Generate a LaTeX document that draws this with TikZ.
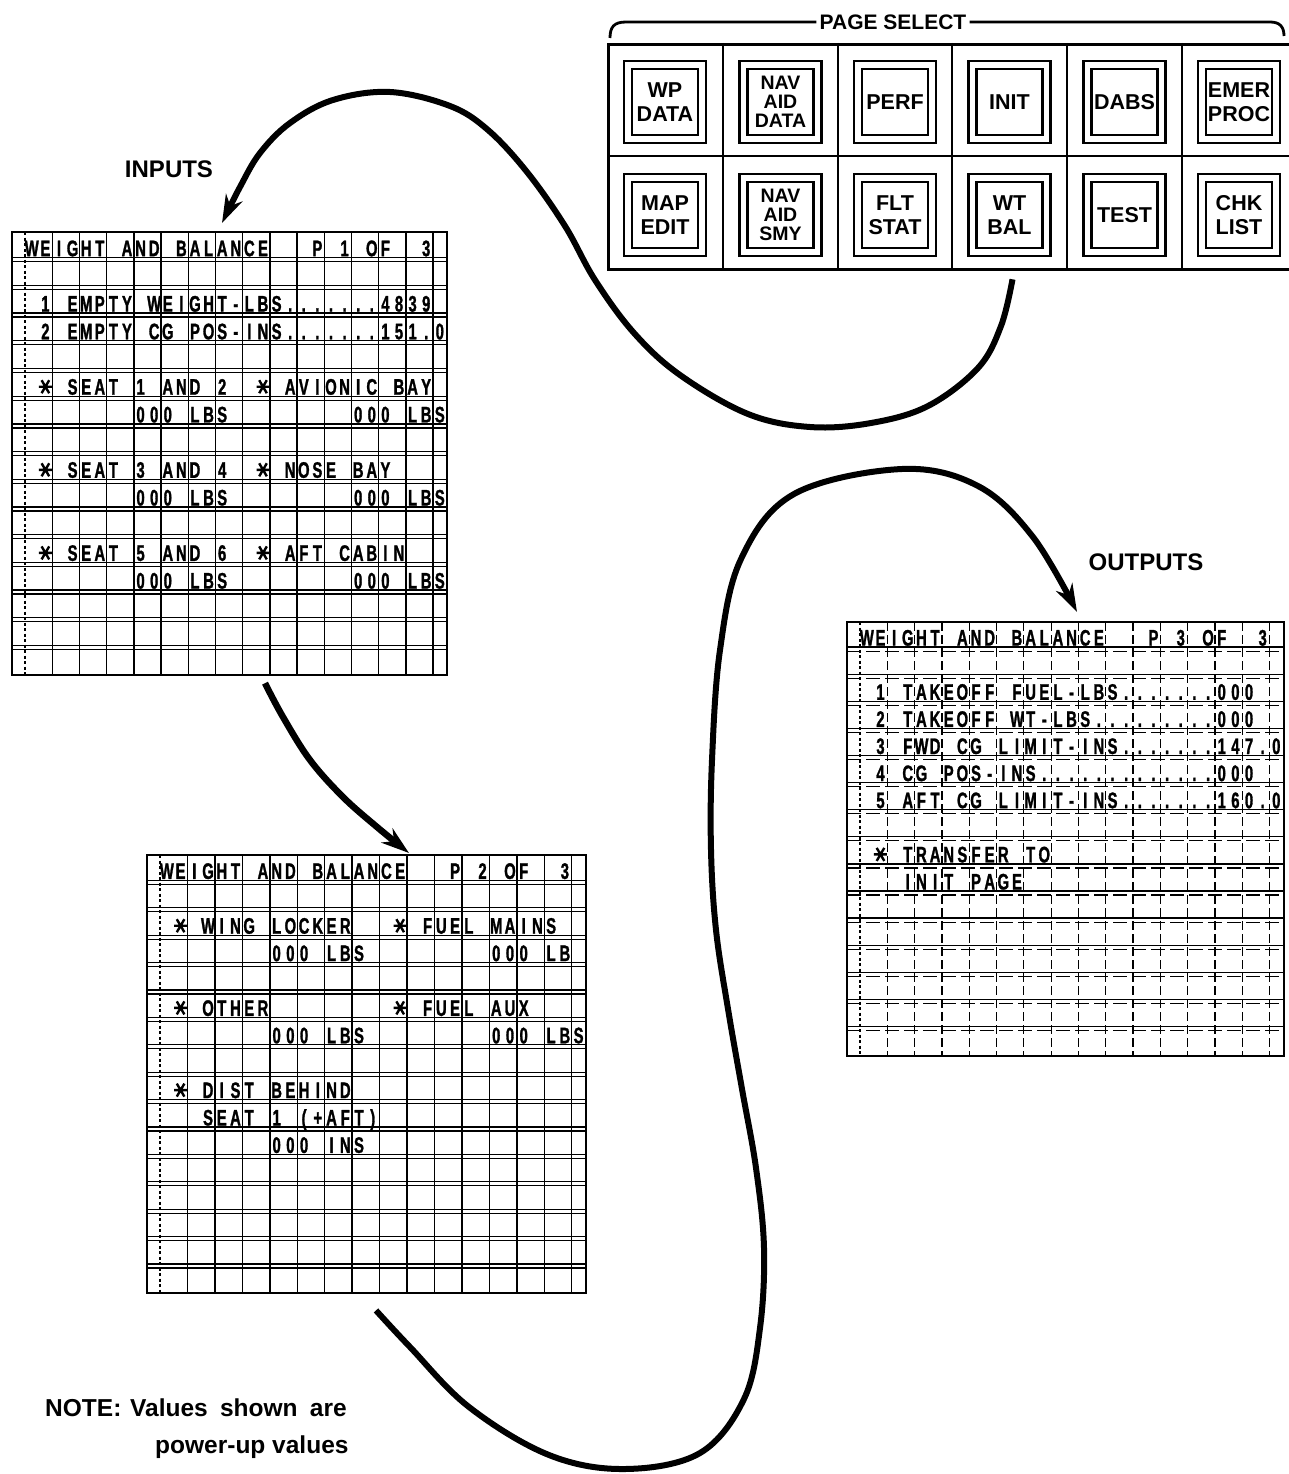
\documentclass[tikz,border=0pt]{standalone}
\usepackage{fontspec}
\setmainfont{Liberation Sans}
\newfontfamily\cdufont{Liberation Sans}[FakeStretch=0.66,FakeBold=1.2]
\usetikzlibrary{arrows.meta,calc}
\newdimen\cellwd
\makeatletter
\def\cellstr#1{\cellstr@a#1\relax}
\def\cellstr@a#1{\ifx\relax#1\else\ifx~#1\hbox to\cellwd{\hfil}\else\hbox to\cellwd{\hss#1\hss}\fi\expandafter\cellstr@a\fi}
\makeatother
\newcommand\settable[5]{\gdef\tabN{#1}\gdef\tabL{#2}\gdef\tabT{#3}\gdef\tabH{#4}\gdef\tabP{#5}\global\cellwd=\dimexpr#5pt/2\relax}
\newcommand\drawtable[2]{%
  \draw[vlfirst] ({\tabL+13},\tabT) -- ++(0,{16*\tabH});
  \foreach \jj in {1,...,15}{\draw[#1] ({\tabL+13+\jj*\tabP},\tabT) -- ++(0,{16*\tabH});}
  \foreach \kk in {1,...,15}{%
    \draw[hl] (\tabL,{\tabT+\kk*\tabH-2}) -- ++({27+15*\tabP},0);
    \draw[#2] (\tabL,{\tabT+\kk*\tabH+2}) -- ++({27+15*\tabP},0);}
  \node[tblbox, anchor=north west, minimum width={27+15*\tabP}, minimum height={16*\tabH}] (\tabN) at (\tabL,\tabT) {};
}
\newcommand\trow[3]{\node[cdu, anchor=base west] (\tabN-r#1c#2) at ({\tabL+13+\tabP/2*(#2)},{\tabT+(#1)*\tabH-3.5}) {\cellstr{#3}};}
\newcommand\tstar[2]{\draw[starline, shift={({\tabL+13+\tabP/2*(#2+0.5)},{\tabT+(#1)*\tabH-11.5})}] (-6.5,0) -- (6.5,0) (-3.8,-6.5) -- (3.8,6.5) (-3.8,6.5) -- (3.8,-6.5);}
\newcommand\pagebtn[5]{\node[btnout] (#1-o) at (#2,#3) {};\node[btnin,#5] (#1) at (#2,#3) {#4};}
\tikzset{
  vl/.style={line width=1.4pt},
  vlfirst/.style={line width=1.1pt, dash pattern=on 3pt off 2.5pt},
  hl/.style={line width=1.3pt},
  vld/.style={line width=1.2pt, dash pattern=on 9pt off 4pt},
  hld/.style={line width=1.2pt, dash pattern=on 14pt off 5pt},
  tblbox/.style={draw, line width=2pt, inner sep=0pt, outer sep=0pt},
  cdu/.style={font=\cdufont\bfseries\fontsize{22.5}{22.5}\selectfont, inner sep=0pt, outer sep=0pt},
  starline/.style={line width=2.4pt},
  panelbox/.style={draw, line width=3.2pt, inner sep=0pt},
  pdiv/.style={line width=2.6pt},
  btnout/.style={draw, line width=2.6pt, minimum size=82pt, inner sep=0pt},
  btnin/.style={draw, line width=2.9pt, minimum size=66pt, inner sep=0pt, align=center, font=\bfseries\fontsize{21.5}{24}\selectfont},
  three/.style={font=\bfseries\fontsize{19.5}{19}\selectfont},
  lbl/.style={font=\bfseries\fontsize{24}{24}\selectfont, inner sep=0pt},
  psel/.style={font=\bfseries\fontsize{21}{21}\selectfont, inner sep=0pt},
  notefont/.style={font=\bfseries\fontsize{24.5}{24.5}\selectfont, inner sep=0pt},
  bracket/.style={line width=2.8pt},
  bigarrow/.style={line width=6pt, -{Stealth[length=28pt,width=18pt,inset=9pt]}},
}
\begin{document}
\begin{tikzpicture}[x=1pt,y=-1pt]
\useasboundingbox (0,0) rectangle (1289,1474);
\fill[white] (0,0) rectangle (1289,1474);

% ---------- PAGE SELECT panel ----------
\node[psel] (pagesel) at (893,22) {PAGE SELECT};
\draw[bracket] ([xshift=-3pt]pagesel.west) -- (626,22) .. controls (614,22) and (610,27) .. (610,38);
\draw[bracket] ([xshift=3pt]pagesel.east) -- (1270,22) .. controls (1280,22) and (1284,27) .. (1284,36);
\node[panelbox, anchor=north west, minimum width=690pt, minimum height=225pt] (panel) at (607,43) {};
\draw[pdiv] (607,156) -- (1297,156);
\foreach \xx in {723,838,952,1067,1182}{\draw[pdiv] (\xx,43) -- (\xx,268);}

\pagebtn{wpdata}{665}{102}{WP\\DATA}{}
\pagebtn{navdata}{780.5}{102}{NAV\\AID\\DATA}{three}
\pagebtn{perf}{895}{102}{PERF}{}
\pagebtn{init}{1009.5}{102}{INIT}{}
\pagebtn{dabs}{1124.5}{102}{DABS}{}
\pagebtn{emer}{1239}{102}{EMER\\PROC}{}
\pagebtn{mapedit}{665}{215}{MAP\\EDIT}{}
\pagebtn{navsmy}{780.5}{215}{NAV\\AID\\SMY}{three}
\pagebtn{fltstat}{895}{215}{FLT\\STAT}{}
\pagebtn{wtbal}{1009.5}{215}{WT\\BAL}{}
\pagebtn{test}{1124.5}{215}{TEST}{}
\pagebtn{chklist}{1239}{215}{CHK\\LIST}{}

% ---------- Table 1 ----------
\settable{t1}{12}{232}{27.7}{27.2}
\drawtable{vl}{hl}
\trow{1}{0}{WEIGHT~AND~BALANCE~~~P~1~OF~~3}
\trow{3}{1}{1~EMPTY~WEIGHT-LBS.......4839}
\trow{4}{1}{2~EMPTY~CG~POS-INS.......151.0}
\tstar{6}{1}\trow{6}{3}{SEAT~1~AND~2}\tstar{6}{17}\trow{6}{19}{AVIONIC~BAY}
\trow{7}{8}{000~LBS}\trow{7}{24}{000~LBS}
\tstar{9}{1}\trow{9}{3}{SEAT~3~AND~4}\tstar{9}{17}\trow{9}{19}{NOSE~BAY}
\trow{10}{8}{000~LBS}\trow{10}{24}{000~LBS}
\tstar{12}{1}\trow{12}{3}{SEAT~5~AND~6}\tstar{12}{17}\trow{12}{19}{AFT~CABIN}
\trow{13}{8}{000~LBS}\trow{13}{24}{000~LBS}

% ---------- Table 2 ----------
\settable{t2}{147}{855}{27.4}{27.45}
\drawtable{vl}{hl}
\trow{1}{0}{WEIGHT~AND~BALANCE~~~P~2~OF~~3}
\tstar{3}{1}\trow{3}{3}{WING~LOCKER}\tstar{3}{17}\trow{3}{19}{FUEL~MAINS}
\trow{4}{8}{000~LBS}\trow{4}{24}{000~LB}
\tstar{6}{1}\trow{6}{3}{OTHER}\tstar{6}{17}\trow{6}{19}{FUEL~AUX}
\trow{7}{8}{000~LBS}\trow{7}{24}{000~LBS}
\tstar{9}{1}\trow{9}{3}{DIST~BEHIND}
\trow{10}{3}{SEAT~1~(+AFT)}
\trow{11}{8}{000~INS}

% ---------- Table 3 ----------
\settable{t3}{847}{622}{27.1}{27.3}
\drawtable{vld}{hld}
\trow{1}{0}{WEIGHT~AND~BALANCE~~~P~3~OF~~3}
\trow{3}{1}{1~TAKEOFF~FUEL-LBS.......000}
\trow{4}{1}{2~TAKEOFF~WT-LBS.........000}
\trow{5}{1}{3~FWD~CG~LIMIT-INS.......147.0}
\trow{6}{1}{4~CG~POS-INS.............000}
\trow{7}{1}{5~AFT~CG~LIMIT-INS.......160.0}
\tstar{9}{1}\trow{9}{3}{TRANSFER~TO}
\trow{10}{3}{INIT~PAGE}

% ---------- Labels ----------
\node[lbl] (inputs) at (169,169) {INPUTS};
\node[lbl] (outputs) at (1146,562) {OUTPUTS};
\node[notefont, anchor=base west] (note1) at (45,1416) {NOTE:};
\node[notefont, anchor=base west] (note2) at (130,1416) {Values\hspace{0.5em}shown\hspace{0.5em}are};
\node[notefont, anchor=base west] (note3) at (155,1453) {power-up values};

% ---------- Connectors ----------
\coordinate (a1s) at ($(wtbal-o.south)+(3,22)$);
\coordinate (a1e) at ($(t1.north west)+(210,-9)$);
\draw[bigarrow] plot[smooth, tension=0.6] coordinates {(a1s) (1001,326) (978,368) (928,406) (871,423) (810,427) (748,414) (680,375) (634,333) (595,280) (565,226) (527,172) (488,130) (450,106) (390,92) (333,100) (290,123) (260,153) (240,187) (a1e)};

\coordinate (a2s) at ($(t1.south west)+(253,8)$);
\coordinate (a2e) at ($(t2.north west)+(262,-2)$);
\draw[bigarrow, line width=6.5pt] plot[smooth, tension=0.6] coordinates {(a2s) (283,717) (310,760) (343,797) (377,827) (a2e)};

\coordinate (a3s) at ($(t2.south west)+(229,17)$);
\coordinate (a3e) at ($(t3.north west)+(230,-10)$);
\draw[bigarrow] plot[smooth, tension=0.6] coordinates {(a3s) (410,1347) (469,1407) (549,1455) (625,1469) (700,1453) (744,1399) (760,1328) (764,1248) (756,1168) (742,1089) (728,1009) (716,930) (711,850) (712,760) (720,650) (741,559) (794,494) (902,469) (978,486) (1033,537) (a3e)};
\end{tikzpicture}
\end{document}
